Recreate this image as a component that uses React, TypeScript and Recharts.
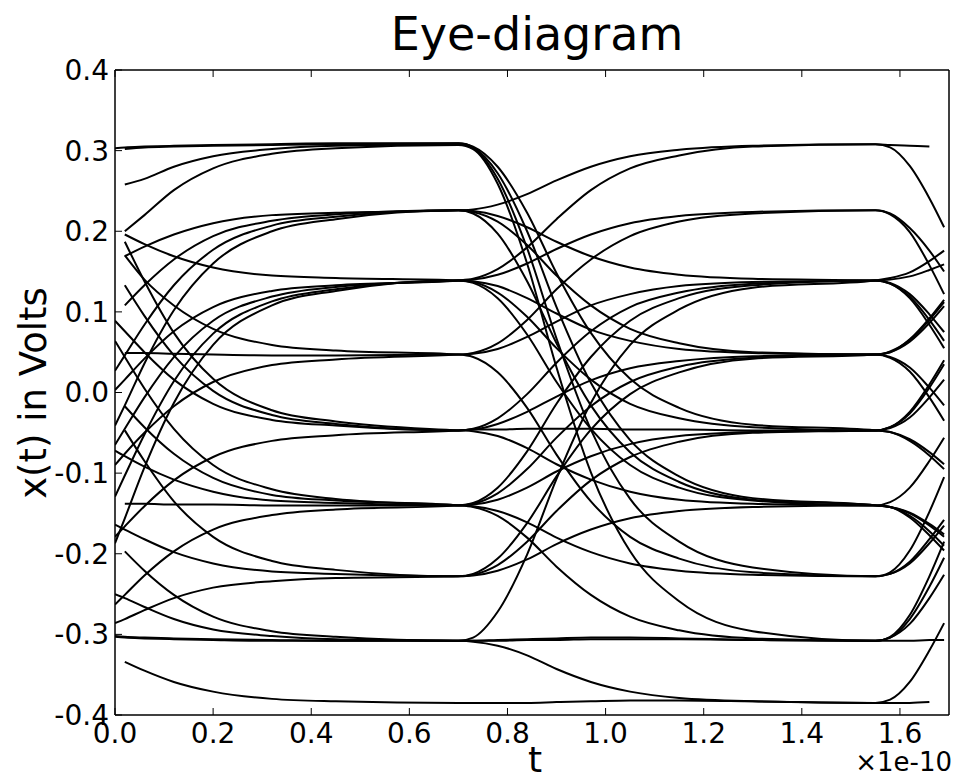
import React from 'react';
import { LineChart, Line, XAxis, YAxis } from 'recharts';

// sample times (units of 1e-10 s)
const tGrid = [0, 0.02, 0.06, 0.12, 0.2, 0.32, 0.45, 0.7, 0.73, 0.78, 0.84, 0.9, 0.97, 1.05, 1.15, 1.3, 1.55, 1.58, 1.62, 1.66, 1.69];

// one array per trace, volts at each tGrid point (null = not drawn)
const trace01 = [0.303, 0.304, 0.305, 0.306, 0.307, 0.308, 0.309, 0.309, 0.305, 0.280, 0.223, 0.148, 0.074, 0.017, -0.019, -0.040, -0.047, -0.049, -0.058, -0.074, -0.089];
const trace02 = [null, 0.302, 0.304, 0.305, 0.306, 0.307, 0.308, 0.309, 0.304, 0.272, 0.200, 0.106, 0.012, -0.059, -0.104, -0.131, -0.140, -0.142, -0.150, -0.165, -0.179];
const trace03 = [null, 0.258, 0.265, 0.280, 0.293, 0.302, 0.306, 0.308, 0.303, 0.265, 0.179, 0.067, -0.046, -0.132, -0.185, -0.217, -0.228, -0.223, -0.196, -0.148, -0.105];
const trace04 = [null, 0.200, 0.220, 0.251, 0.278, 0.296, 0.303, 0.307, 0.302, 0.259, 0.160, 0.031, -0.099, -0.197, -0.259, -0.296, -0.308, -0.303, -0.276, -0.228, -0.185];
const trace05 = [null, 0.169, 0.181, 0.196, 0.210, 0.220, 0.223, 0.226, 0.227, 0.233, 0.246, 0.263, 0.280, 0.293, 0.301, 0.306, 0.308, 0.307, 0.306, 0.305, null];
const trace06 = [null, 0.108, 0.133, 0.165, 0.194, 0.213, 0.221, 0.226, 0.224, 0.212, 0.183, 0.145, 0.108, 0.079, 0.061, 0.050, 0.047, 0.050, 0.063, 0.086, 0.107];
const trace07 = [0.027, 0.046, 0.084, 0.133, 0.177, 0.207, 0.218, 0.226, 0.222, 0.197, 0.138, 0.061, -0.016, -0.074, -0.111, -0.133, -0.140, -0.142, -0.155, -0.177, -0.196];
const trace08 = [-0.041, -0.016, 0.036, 0.102, 0.160, 0.200, 0.215, 0.226, 0.225, 0.219, 0.205, 0.187, 0.169, 0.155, 0.146, 0.141, 0.139, 0.136, 0.122, 0.097, 0.075];
const trace09 = [0.003, 0.016, 0.042, 0.076, 0.106, 0.126, 0.133, 0.139, 0.141, 0.153, 0.180, 0.215, 0.251, 0.278, 0.294, 0.305, 0.308, 0.304, 0.281, 0.241, 0.205];
const trace10 = [-0.065, -0.045, -0.006, 0.044, 0.089, 0.119, 0.131, 0.139, 0.140, 0.146, 0.160, 0.178, 0.196, 0.210, 0.219, 0.224, 0.226, 0.221, 0.199, 0.158, 0.122];
const trace11 = [-0.129, -0.103, -0.052, 0.014, 0.073, 0.113, 0.128, 0.139, 0.138, 0.132, 0.117, 0.098, 0.078, 0.064, 0.054, 0.049, 0.047, 0.051, 0.065, 0.090, 0.112];
const trace12 = [-0.187, -0.156, -0.093, -0.013, 0.059, 0.108, 0.126, 0.139, 0.137, 0.124, 0.094, 0.055, 0.016, -0.014, -0.032, -0.043, -0.047, -0.043, -0.026, 0.006, 0.035];
const trace13 = [null, 0.196, 0.184, 0.169, 0.155, 0.145, 0.142, 0.139, 0.136, 0.117, 0.072, 0.013, -0.045, -0.090, -0.118, -0.134, -0.140, -0.136, -0.118, -0.085, -0.056];
const trace14 = [null, 0.049, 0.049, 0.048, 0.047, 0.046, 0.046, 0.047, 0.049, 0.061, 0.090, 0.128, 0.165, 0.194, 0.212, 0.222, 0.226, 0.222, 0.204, 0.176, 0.150];
const trace15 = [null, 0.170, 0.140, 0.108, 0.079, 0.059, 0.052, 0.047, 0.044, 0.025, -0.019, -0.077, -0.135, -0.179, -0.206, -0.223, -0.228, -0.225, -0.212, -0.187, -0.165];
const trace16 = [-0.090, -0.076, -0.050, -0.017, 0.013, 0.034, 0.041, 0.047, 0.048, 0.054, 0.069, 0.088, 0.108, 0.122, 0.132, 0.137, 0.139, 0.140, 0.144, 0.152, 0.159];
const trace17 = [null, 0.133, 0.095, 0.046, 0.002, -0.028, -0.039, -0.047, -0.045, -0.032, -0.002, 0.037, 0.076, 0.106, 0.124, 0.135, 0.139, 0.135, 0.117, 0.084, 0.055];
const trace18 = [null, 0.187, 0.138, 0.074, 0.017, -0.022, -0.036, -0.047, -0.048, -0.054, -0.069, -0.089, -0.108, -0.123, -0.133, -0.138, -0.140, -0.142, -0.153, -0.172, -0.190];
const trace19 = [0.089, 0.076, 0.050, 0.016, -0.014, -0.034, -0.041, -0.047, -0.046, -0.046, -0.045, -0.045, -0.045, -0.046, -0.046, -0.047, -0.047, -0.044, -0.031, -0.006, 0.016];
const trace20 = [-0.179, -0.166, -0.141, -0.109, -0.080, -0.060, -0.053, -0.047, -0.046, -0.039, -0.024, -0.005, 0.015, 0.030, 0.039, 0.045, 0.047, 0.044, 0.031, 0.006, -0.016];
const trace21 = [-0.263, -0.251, -0.227, -0.197, -0.170, -0.152, -0.145, -0.140, -0.137, -0.118, -0.073, -0.014, 0.044, 0.089, 0.117, 0.133, 0.139, 0.135, 0.119, 0.090, 0.064];
const trace22 = [0.064, 0.044, 0.005, -0.045, -0.090, -0.120, -0.132, -0.140, -0.141, -0.147, -0.161, -0.180, -0.198, -0.212, -0.221, -0.226, -0.228, -0.225, -0.210, -0.182, -0.158];
const trace23 = [null, -0.017, -0.043, -0.076, -0.106, -0.127, -0.134, -0.140, -0.142, -0.153, -0.180, -0.216, -0.251, -0.278, -0.295, -0.305, -0.308, -0.304, -0.287, -0.255, -0.226];
const trace24 = [null, -0.138, -0.138, -0.139, -0.139, -0.140, -0.140, -0.140, -0.138, -0.125, -0.095, -0.056, -0.017, 0.013, 0.032, 0.043, 0.047, 0.043, 0.026, -0.006, -0.035];
const trace25 = [-0.072, -0.079, -0.092, -0.108, -0.123, -0.134, -0.137, -0.140, -0.139, -0.133, -0.118, -0.098, -0.079, -0.064, -0.054, -0.049, -0.047, -0.043, -0.024, 0.010, 0.040];
const trace26 = [-0.164, -0.170, -0.182, -0.198, -0.212, -0.222, -0.225, -0.228, -0.225, -0.206, -0.162, -0.104, -0.046, -0.002, 0.025, 0.042, 0.047, 0.050, 0.066, 0.092, 0.115];
const trace27 = [null, -0.047, -0.085, -0.135, -0.179, -0.209, -0.220, -0.228, -0.226, -0.214, -0.185, -0.147, -0.109, -0.080, -0.061, -0.050, -0.047, -0.049, -0.060, -0.078, -0.095];
const trace28 = [-0.286, -0.281, -0.270, -0.255, -0.242, -0.234, -0.230, -0.228, -0.227, -0.221, -0.207, -0.188, -0.170, -0.156, -0.147, -0.142, -0.140, -0.142, -0.149, -0.163, -0.176];
const trace29 = [-0.303, -0.304, -0.305, -0.306, -0.307, -0.308, -0.308, -0.308, -0.304, -0.272, -0.201, -0.107, -0.013, 0.059, 0.103, 0.130, 0.139, 0.142, 0.149, 0.163, 0.176];
const trace30 = [-0.302, -0.303, -0.304, -0.305, -0.306, -0.307, -0.308, -0.308, -0.308, -0.307, -0.306, -0.305, -0.304, -0.304, -0.305, -0.307, -0.308, -0.308, -0.308, -0.307, -0.307];
const trace31 = [-0.250, -0.255, -0.266, -0.281, -0.294, -0.302, -0.306, -0.308, -0.309, -0.314, -0.326, -0.343, -0.359, -0.371, -0.379, -0.383, -0.385, -0.385, -0.385, -0.384, null];
const trace32 = [null, -0.197, -0.221, -0.251, -0.278, -0.296, -0.303, -0.308, -0.308, -0.308, -0.307, -0.307, -0.306, -0.306, -0.306, -0.307, -0.308, -0.304, -0.281, -0.241, -0.205];
const trace33 = [null, -0.334, -0.345, -0.359, -0.371, -0.380, -0.383, -0.385, -0.385, -0.385, -0.385, -0.384, -0.383, -0.382, -0.382, -0.383, -0.385, -0.381, -0.359, -0.320, -0.286];

const traces = [
  trace01, trace02, trace03, trace04, trace05, trace06, trace07, trace08, trace09, trace10, trace11,
  trace12, trace13, trace14, trace15, trace16, trace17, trace18, trace19, trace20, trace21, trace22,
  trace23, trace24, trace25, trace26, trace27, trace28, trace29, trace30, trace31, trace32, trace33,
];

const xTicks = [0, 0.2, 0.4, 0.6, 0.8, 1.0, 1.2, 1.4, 1.6];
const yTicks = [-0.4, -0.3, -0.2, -0.1, 0, 0.1, 0.2, 0.3, 0.4];

const chartData = tGrid.map((t, i) => {
  const row: Record<string, number | null> = { t };
  traces.forEach((tr, k) => {
    row[`s${k}`] = tr[i];
  });
  return row;
});

const FONT = 'DejaVu Sans';
const tickStyle = { fontFamily: FONT, fontSize: 28, fill: '#000' };
const blank = () => '';

const App: React.FC = () => {
  return (
    <div style={{ position: 'absolute', left: 0, top: 0, width: 959, height: 782, background: '#fff' }}>
      <LineChart
        width={959}
        height={782}
        data={chartData}
        margin={{ top: 69, right: 9, bottom: 27, left: 55 }}
      >
        <XAxis
          xAxisId="b"
          dataKey="t"
          type="number"
          domain={[0, 1.7]}
          ticks={xTicks}
          tickFormatter={(v: number) => v.toFixed(1)}
          height={40}
          tickSize={-7}
          tickMargin={15}
          tick={tickStyle}
          axisLine={{ stroke: '#000', strokeWidth: 1.5 }}
          tickLine={{ stroke: '#000' }}
          allowDataOverflow
        />
        <XAxis
          xAxisId="top"
          orientation="top"
          dataKey="t"
          type="number"
          domain={[0, 1.7]}
          ticks={xTicks}
          tickFormatter={blank}
          height={1}
          tickSize={-7}
          axisLine={{ stroke: '#000', strokeWidth: 1.5 }}
          tickLine={{ stroke: '#000' }}
        />
        <YAxis
          yAxisId="l"
          type="number"
          domain={[-0.4, 0.4]}
          ticks={yTicks}
          tickFormatter={(v: number) => v.toFixed(1)}
          width={60}
          tickSize={-7}
          tickMargin={13}
          tick={tickStyle}
          axisLine={{ stroke: '#000', strokeWidth: 1.5 }}
          tickLine={{ stroke: '#000' }}
          allowDataOverflow
        />
        <YAxis
          yAxisId="r"
          orientation="right"
          type="number"
          domain={[-0.4, 0.4]}
          ticks={yTicks}
          tickFormatter={blank}
          width={1}
          tickSize={-7}
          axisLine={{ stroke: '#000', strokeWidth: 1.5 }}
          tickLine={{ stroke: '#000' }}
        />
        {traces.map((_, k) => (
          <Line
            key={k}
            xAxisId="b"
            yAxisId="l"
            type="monotone"
            dataKey={`s${k}`}
            stroke="#000"
            strokeWidth={2}
            dot={false}
            activeDot={false}
            isAnimationActive={false}
          />
        ))}
      </LineChart>
      <svg
        width={959}
        height={782}
        style={{ position: 'absolute', left: 0, top: 0, pointerEvents: 'none' }}
      >
        <text x={537} y={50} textAnchor="middle" fontFamily={FONT} fontSize={46} fill="#000">
          Eye-diagram
        </text>
        <text
          transform="translate(46, 393) rotate(-90)"
          textAnchor="middle"
          fontFamily={FONT}
          fontSize={37}
          fill="#000"
        >
          x(t) in Volts
        </text>
        <text x={535} y={772} textAnchor="middle" fontFamily={FONT} fontSize={36} fill="#000">
          t
        </text>
        <text x={952} y={771} textAnchor="end" fontFamily={FONT} fontSize={26} fill="#000">
          ×1e-10
        </text>
      </svg>
    </div>
  );
};

export default App;
